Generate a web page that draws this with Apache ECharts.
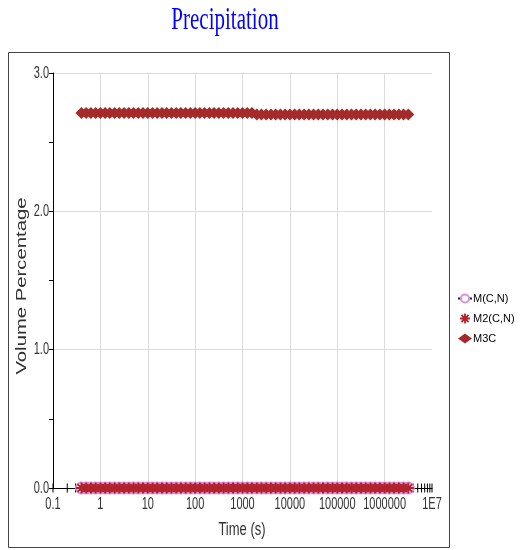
<!DOCTYPE html>
<html>
<head>
<meta charset="utf-8">
<script src="https://cdn.jsdelivr.net/npm/echarts@6/dist/echarts.min.js"></script>
<style>
html,body{margin:0;padding:0;background:#fff;}
#chart{width:521px;height:550px;}
</style>
</head>
<body>
<div id="chart"></div>
<script>
// ---- data ----
const times = [
  0.398, 0.501, 0.631, 0.794,
  1, 1.26, 1.58, 2, 2.51, 3.16, 3.98, 5.01, 6.31, 7.94,
  10, 12.6, 15.8, 20, 25.1, 31.6, 39.8, 50.1, 63.1, 79.4,
  100, 126, 158, 200, 251, 316, 398, 501, 631, 794,
  1000, 1260, 1580, 2000, 2510, 3160, 3980, 5010, 6310, 7940,
  10000, 12600, 15800, 20000, 25100, 31600, 39800, 50100, 63100, 79400,
  100000, 126000, 158000, 200000, 251000, 316000, 398000, 501000, 631000, 794000,
  1000000, 1260000, 1580000, 2000000, 2510000, 3160000
];
const mCN = [
  0, 0, 0, 0, 0, 0, 0, 0, 0, 0,
  0, 0, 0, 0, 0, 0, 0, 0, 0, 0,
  0, 0, 0, 0, 0, 0, 0, 0, 0, 0,
  0, 0, 0, 0, 0, 0, 0, 0, 0, 0,
  0, 0, 0, 0, 0, 0, 0, 0, 0, 0,
  0, 0, 0, 0, 0, 0, 0, 0, 0, 0,
  0, 0, 0, 0, 0, 0, 0, 0, 0, 0
];
const m2CN = [
  0, 0, 0, 0, 0, 0, 0, 0, 0, 0,
  0, 0, 0, 0, 0, 0, 0, 0, 0, 0,
  0, 0, 0, 0, 0, 0, 0, 0, 0, 0,
  0, 0, 0, 0, 0, 0, 0, 0, 0, 0,
  0, 0, 0, 0, 0, 0, 0, 0, 0, 0,
  0, 0, 0, 0, 0, 0, 0, 0, 0, 0,
  0, 0, 0, 0, 0, 0, 0, 0, 0, 0
];
const m3C = [
  2.71, 2.71, 2.71, 2.71, 2.71, 2.71, 2.71, 2.71, 2.71, 2.71,
  2.71, 2.71, 2.71, 2.71, 2.71, 2.71, 2.71, 2.71, 2.71, 2.71,
  2.71, 2.71, 2.71, 2.71, 2.71, 2.71, 2.71, 2.71, 2.71, 2.71,
  2.71, 2.71, 2.71, 2.71, 2.71, 2.71, 2.71, 2.70, 2.70, 2.70,
  2.70, 2.70, 2.70, 2.70, 2.70, 2.70, 2.70, 2.70, 2.70, 2.70,
  2.70, 2.70, 2.70, 2.70, 2.70, 2.70, 2.70, 2.70, 2.70, 2.70,
  2.70, 2.70, 2.70, 2.70, 2.70, 2.70, 2.70, 2.70, 2.70, 2.70
];
const xTickValues = [0.1, 1, 10, 100, 1000, 10000, 100000, 1000000, 10000000];
const xTickLabels = ['0.1', '1', '10', '100', '1000', '10000', '100000', '1000000', '1E7'];
const xMinorTicks = [
  0.1, 0.2, 0.3, 0.4, 0.5, 0.6, 0.7, 0.8, 0.9,
  1, 2, 3, 4, 5, 6, 7, 8, 9,
  10, 20, 30, 40, 50, 60, 70, 80, 90,
  100, 200, 300, 400, 500, 600, 700, 800, 900,
  1000, 2000, 3000, 4000, 5000, 6000, 7000, 8000, 9000,
  10000, 20000, 30000, 40000, 50000, 60000, 70000, 80000, 90000,
  100000, 200000, 300000, 400000, 500000, 600000, 700000, 800000, 900000,
  1000000, 2000000, 3000000, 4000000, 5000000, 6000000, 7000000, 8000000, 9000000,
  10000000
];
const yTickValues = [0, 1, 2, 3];
const yTickLabels = ['0.0', '1.0', '2.0', '3.0'];
const seriesNames = ['M(C,N)', 'M2(C,N)', 'M3C'];
const titleText = 'Precipitation';
const xName = 'Time (s)';
const yName = 'Volume Percentage';

// ---- build ----
const pair = (xs, ys) => xs.map((x, i) => [x, ys[i]]);
const asterisk = 'path://M4.1,0h1.8v10h-1.8z M0,4.1h10v1.8h-10z M0.8,2.1l1.3,-1.3l7.1,7.1l-1.3,1.3z M7.9,0.8l1.3,1.3l-7.1,7.1l-1.3,-1.3z';
const labelFont = '11px "Liberation Sans", Arial, sans-serif';

const chart = echarts.init(document.getElementById('chart'), null, {renderer: 'canvas'});
const option = {
  animation: false,
  backgroundColor: '#ffffff',
  grid: {left: 53, right: 89, top: 73, bottom: 62, containLabel: false},
  xAxis: {
    type: 'log', logBase: 10, min: 0.1, max: 1e7,
    axisLine: {show: true, onZero: false, lineStyle: {color: '#000', width: 1}},
    axisTick: {show: false},
    axisLabel: {show: false},
    splitLine: {show: true, showMaxLine: false, lineStyle: {color: '#dcdcdc', width: 1}}
  },
  yAxis: {
    type: 'value', min: 0, max: 3, interval: 1,
    axisLine: {show: true, lineStyle: {color: '#000', width: 1}},
    axisTick: {show: true, length: 4, lineStyle: {color: '#000'}},
    minorTick: {show: true, splitNumber: 2, length: 4, lineStyle: {color: '#000'}},
    axisLabel: {show: false},
    splitLine: {show: true, lineStyle: {color: '#dcdcdc', width: 1}}
  },
  legend: {
    orient: 'vertical', left: 452, top: 288, itemGap: 9,
    itemWidth: 14, itemHeight: 10,
    textStyle: {fontSize: 11, fontFamily: '"Liberation Sans", Arial, sans-serif', color: '#000', padding: [0, 0, 0, -4]},
    data: [
      {name: seriesNames[0]},
      {name: seriesNames[1]},
      {name: seriesNames[2]}
    ]
  },
  series: [
    {
      name: 'ticks', type: 'scatter', silent: true, z: 1,
      symbol: 'rect', symbolSize: [1, 9],
      itemStyle: {color: '#000', opacity: 1},
      data: xMinorTicks.map(v => [v, 0])
    },
    {
      name: seriesNames[0], type: 'line', z: 2,
      symbol: 'emptyCircle', symbolSize: 11,
      lineStyle: {color: '#222', width: 1},
      itemStyle: {color: '#e090e0', borderColor: '#e090e0', borderWidth: 1.3, opacity: 1},
      data: pair(times, mCN)
    },
    {
      name: seriesNames[1], type: 'scatter', z: 3,
      symbol: asterisk, symbolSize: 11,
      itemStyle: {color: '#b0222c', opacity: 1},
      data: pair(times, m2CN)
    },
    {
      name: seriesNames[2], type: 'scatter', z: 3,
      symbol: 'diamond', symbolSize: 12,
      itemStyle: {color: '#a52a2a', opacity: 1},
      data: pair(times, m3C)
    }
  ]
};
chart.setOption(option);

// text elements (stretched vertically like the reference), positioned via the chart's own scales
const g = [];
g.push({
  type: 'rect', silent: true, z: -10,
  shape: {x: 8.5, y: 52.5, width: 441, height: 495},
  style: {fill: null, stroke: '#444', lineWidth: 1}
});
g.push({
  type: 'text', x: 225, y: 21, scaleY: 1.5,
  style: {text: titleText, font: '21px "Liberation Serif", "Times New Roman", serif', fill: '#0000ff', align: 'center', verticalAlign: 'middle'}
});
g.push({
  type: 'text', x: 242, y: 530, scaleY: 1.45,
  style: {text: xName, font: '13px "Liberation Sans", Arial, sans-serif', fill: '#333', align: 'center', verticalAlign: 'middle'}
});
g.push({
  type: 'text', x: 22, y: 286, rotation: Math.PI / 2, scaleX: 1.45,
  style: {text: yName, font: '14px "Liberation Sans", Arial, sans-serif', fill: '#333', align: 'center', verticalAlign: 'middle'}
});
xTickValues.forEach((v, i) => {
  const p = chart.convertToPixel({xAxisIndex: 0, yAxisIndex: 0}, [v, 0]);
  g.push({
    type: 'text', x: p[0], y: p[1] + 16, scaleY: 1.5,
    style: {text: xTickLabels[i], font: labelFont, fill: '#333', align: 'center', verticalAlign: 'middle'}
  });
});
yTickValues.forEach((v, i) => {
  const p = chart.convertToPixel({xAxisIndex: 0, yAxisIndex: 0}, [0.1, v]);
  g.push({
    type: 'text', x: p[0] - 4, y: p[1], scaleY: 1.5,
    style: {text: yTickLabels[i], font: labelFont, fill: '#333', align: 'right', verticalAlign: 'middle'}
  });
});
chart.setOption({graphic: {elements: g}});
</script>
</body>
</html>
